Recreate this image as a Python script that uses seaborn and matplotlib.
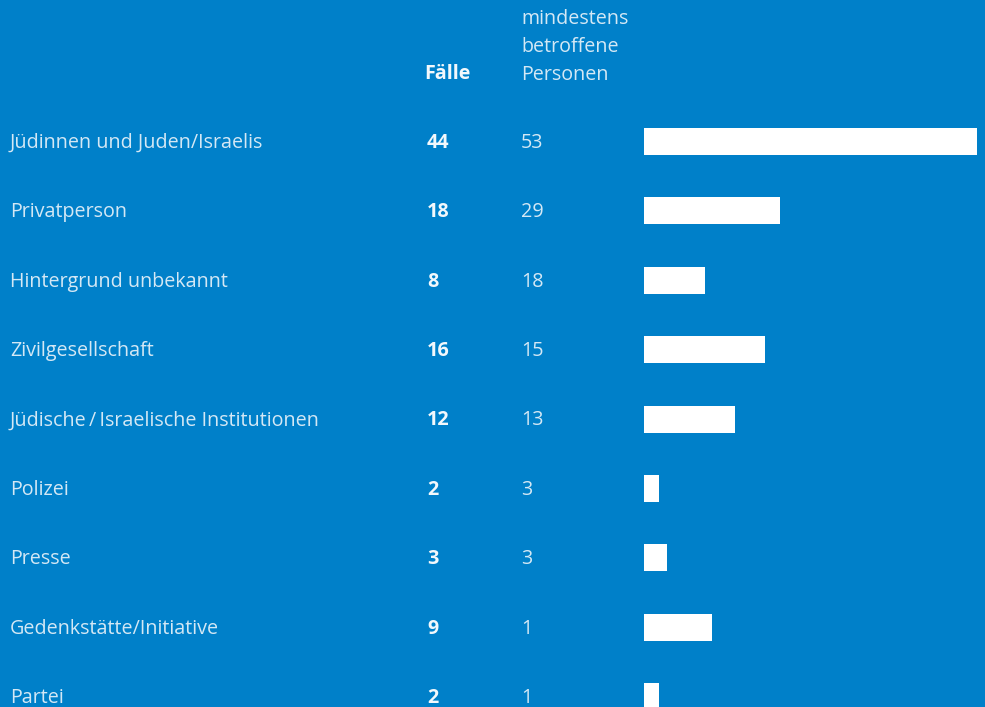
import matplotlib
matplotlib.use("Agg")
import matplotlib.pyplot as plt
import matplotlib.transforms as mtransforms
import seaborn as sns
import pandas as pd

categories = [
    "Jüdinnen und Juden/Israelis",
    "Privatperson",
    "Hintergrund unbekannt",
    "Zivilgesellschaft",
    "Jüdische\u2009/\u2009Israelische Institutionen",
    "Polizei",
    "Presse",
    "Gedenkstätte/Initiative",
    "Partei",
]
faelle = [44, 18, 8, 16, 12, 2, 3, 9, 2]
personen = [53, 29, 18, 15, 13, 3, 3, 1, 1]
header_faelle = "Fälle"
header_personen = "mindestens\nbetroffene\nPersonen"

BG = "#0080C9"
TXT = "#D4E8F5"
TXT_B = "#F2F8FC"

sns.set_theme(style="white")
plt.rcParams["font.family"] = ["Open Sans", "DejaVu Sans"]

W, H = 985, 707
fig = plt.figure(figsize=(W / 100, H / 100), dpi=100, facecolor=BG)
ax = fig.add_axes([0, 0, 1, 1])
ax.set_facecolor(BG)

df = pd.DataFrame({"cat": categories, "faelle": faelle, "personen": personen})

sns.barplot(data=df, x="faelle", y="cat", orient="h", color="white",
            width=0.39, saturation=1, ax=ax, edgecolor="none")

# pixel mapping
x0_px, x1_px = 644, 977
scale = (x1_px - x0_px) / max(faelle)
ax.set_xlim(-x0_px / scale, (W - x0_px) / scale)
row0_px, row_step = 141.5, 69.4
ax.set_ylim((H - row0_px) / row_step, -row0_px / row_step)
ax.axis("off")

trans = mtransforms.blended_transform_factory(fig.transFigure, ax.transData)
fs = 14.2
for i, (c, f, p) in enumerate(zip(categories, faelle, personen)):
    ax.text(10 / W, i + 0.02, c, transform=trans, color=TXT, fontsize=fs, va="center", ha="left")
    ax.text(427 / W, i + 0.02, str(f), transform=trans, color=TXT_B, fontsize=fs,
            fontweight="bold", va="center", ha="left")
    ax.text(521 / W, i + 0.02, str(p), transform=trans, color=TXT, fontsize=fs, va="center", ha="left")

fig.text(424 / W, 1 - 74 / H, header_faelle, color=TXT_B, fontsize=fs, fontweight="bold",
         va="center", ha="left")
fig.text(521 / W, 1 - 47 / H, header_personen, color=TXT, fontsize=fs, va="center",
         ha="left", linespacing=1.55)

fig.savefig("out.png", dpi=100, facecolor=BG)
